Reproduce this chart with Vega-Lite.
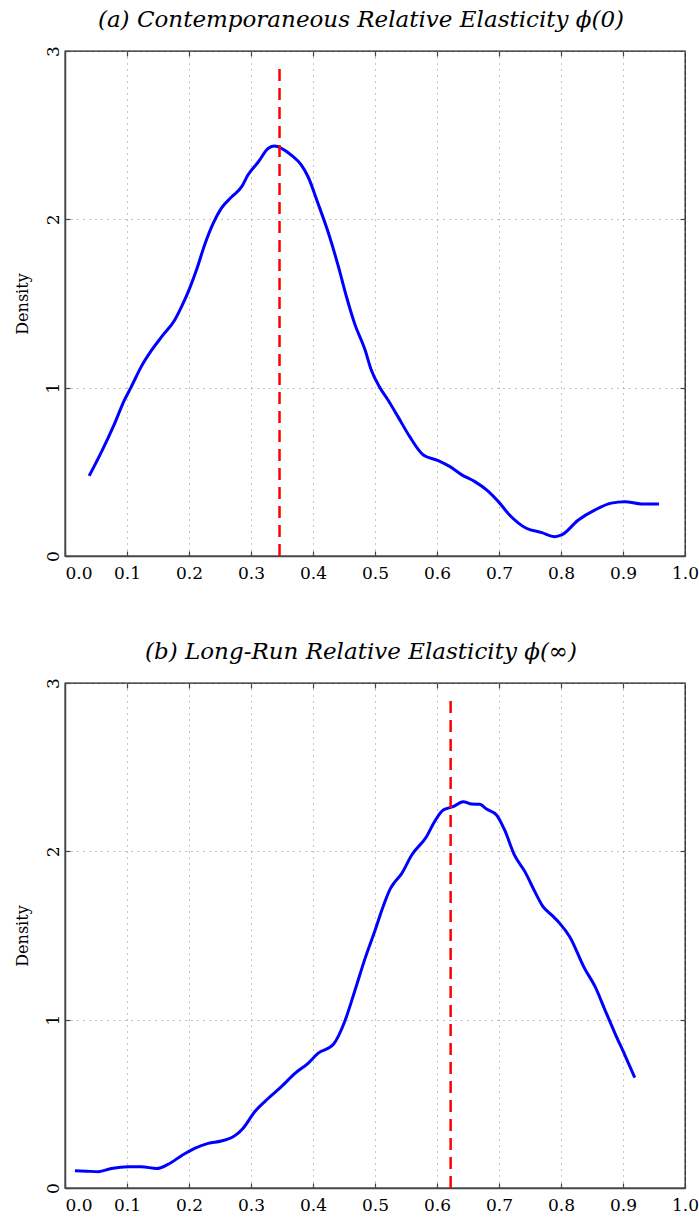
{
  "$schema": "https://vega.github.io/schema/vega-lite/v6.json",
  "background": "white",
  "padding": {"left": 13, "top": 7, "right": 4, "bottom": 4},
  "spacing": 57,
  "datasets": {
    "curveA": [
      {"x":0.039,"y":0.476},{"x":0.059,"y":0.62},{"x":0.078,"y":0.77},{"x":0.096,"y":0.927},{"x":0.107,"y":1.006},{"x":0.123,"y":1.125},{"x":0.14,"y":1.224},{"x":0.156,"y":1.303},{"x":0.177,"y":1.402},{"x":0.188,"y":1.481},{"x":0.201,"y":1.59},{"x":0.212,"y":1.699},{"x":0.226,"y":1.857},{"x":0.239,"y":1.976},{"x":0.252,"y":2.065},{"x":0.269,"y":2.134},{"x":0.285,"y":2.194},{"x":0.295,"y":2.263},{"x":0.312,"y":2.342},{"x":0.328,"y":2.422},{"x":0.338,"y":2.435},{"x":0.349,"y":2.422},{"x":0.365,"y":2.382},{"x":0.381,"y":2.323},{"x":0.392,"y":2.253},{"x":0.408,"y":2.095},{"x":0.425,"y":1.917},{"x":0.441,"y":1.719},{"x":0.454,"y":1.54},{"x":0.467,"y":1.382},{"x":0.484,"y":1.224},{"x":0.494,"y":1.105},{"x":0.508,"y":1.0},{"x":0.521,"y":0.927},{"x":0.537,"y":0.828},{"x":0.556,"y":0.709},{"x":0.578,"y":0.6},{"x":0.602,"y":0.567},{"x":0.621,"y":0.531},{"x":0.64,"y":0.482},{"x":0.661,"y":0.442},{"x":0.68,"y":0.393},{"x":0.699,"y":0.323},{"x":0.717,"y":0.244},{"x":0.744,"y":0.165},{"x":0.769,"y":0.139},{"x":0.79,"y":0.115},{"x":0.801,"y":0.125},{"x":0.828,"y":0.214},{"x":0.855,"y":0.274},{"x":0.881,"y":0.314},{"x":0.903,"y":0.323},{"x":0.93,"y":0.309},{"x":0.958,"y":0.309}
    ],
    "curveB": [
      {"x":0.016,"y":0.103},{"x":0.035,"y":0.1},{"x":0.054,"y":0.097},{"x":0.075,"y":0.116},{"x":0.102,"y":0.126},{"x":0.123,"y":0.126},{"x":0.148,"y":0.116},{"x":0.166,"y":0.14},{"x":0.188,"y":0.192},{"x":0.209,"y":0.235},{"x":0.231,"y":0.265},{"x":0.252,"y":0.279},{"x":0.274,"y":0.311},{"x":0.287,"y":0.354},{"x":0.306,"y":0.453},{"x":0.328,"y":0.533},{"x":0.349,"y":0.602},{"x":0.371,"y":0.681},{"x":0.392,"y":0.741},{"x":0.408,"y":0.8},{"x":0.433,"y":0.854},{"x":0.451,"y":0.988},{"x":0.467,"y":1.166},{"x":0.484,"y":1.364},{"x":0.5,"y":1.53},{"x":0.513,"y":1.671},{"x":0.525,"y":1.78},{"x":0.532,"y":1.818},{"x":0.543,"y":1.868},{"x":0.559,"y":1.977},{"x":0.583,"y":2.087},{"x":0.596,"y":2.176},{"x":0.61,"y":2.245},{"x":0.626,"y":2.265},{"x":0.642,"y":2.295},{"x":0.656,"y":2.281},{"x":0.669,"y":2.279},{"x":0.68,"y":2.251},{"x":0.696,"y":2.216},{"x":0.709,"y":2.127},{"x":0.725,"y":1.977},{"x":0.742,"y":1.878},{"x":0.758,"y":1.759},{"x":0.771,"y":1.671},{"x":0.785,"y":1.621},{"x":0.798,"y":1.572},{"x":0.814,"y":1.493},{"x":0.838,"y":1.305},{"x":0.855,"y":1.196},{"x":0.871,"y":1.057},{"x":0.887,"y":0.919},{"x":0.903,"y":0.79},{"x":0.919,"y":0.656}
    ],
    "markA": [{"x":0.346,"y0":0,"y1":2.92}],
    "markB": [{"x":0.622,"y0":0,"y1":2.92}]
  },
  "config": {
    "view": {"stroke": "#111", "strokeWidth": 1.3},
    "axis": {
      "labelFont": "DejaVu Serif",
      "labelFontSize": 17,
      "labelColor": "#000",
      "titleFont": "DejaVu Serif",
      "titleFontSize": 16,
      "titleFontWeight": "normal",
      "titleColor": "#000",
      "tickColor": "#444",
      "tickWidth": 1.2,
      "domainColor": "#444",
      "domainWidth": 1.5,
      "gridColor": "#888",
      "gridDash": [1, 5],
      "gridWidth": 1
    },
    "title": {
      "font": "DejaVu Serif",
      "fontStyle": "italic",
      "fontSize": 23,
      "fontWeight": "normal",
      "color": "#000",
      "offset": 14,
      "dx": -14
    }
  },
  "vconcat": [
    {
      "title": {"text": "(a) Contemporaneous Relative Elasticity ϕ(0)"},
      "width": 620,
      "height": 505,
      "layer": [
        {
          "data": {"name": "curveA"},
          "mark": {"type": "line", "color": "#0000ff", "strokeWidth": 3, "interpolate": "monotone"},
          "encoding": {
            "x": {"field": "x", "type": "quantitative", "scale": {"domain": [0, 1], "nice": false},
              "axis": {"orient": "bottom", "title": null, "values": [0,0.1,0.2,0.3,0.4,0.5,0.6,0.7,0.8,0.9,1.0], "format": ".1f", "tickSize": -5, "labelPadding": 14, "grid": true, "labelFlush": false,
                "labelAlign": {"condition": {"test": "datum.value <= 0", "value": "left"}, "value": "center"}}},
            "y": {"field": "y", "type": "quantitative", "scale": {"domain": [0, 3], "nice": false},
              "axis": {"orient": "left", "title": "Density", "values": [0,1,2,3], "tickSize": -5, "labelAngle": 270, "labelAlign": "center", "labelBaseline": "alphabetic", "labelPadding": 12, "titlePadding": 14, "grid": true, "labelFlush": false}}
          }
        },
        {
          "data": {"name": "markA"},
          "mark": {"type": "rule", "color": "#ff0000", "strokeWidth": 2.5, "strokeDash": [12, 7]},
          "encoding": {
            "x": {"field": "x", "type": "quantitative", "axis": {"orient": "top", "title": null, "labels": false, "domain": false, "grid": false, "tickSize": -5, "values": [0.1,0.2,0.3,0.4,0.5,0.6,0.7,0.8,0.9]}},
            "y": {"field": "y0", "type": "quantitative", "axis": {"orient": "right", "title": null, "labels": false, "domain": false, "grid": false, "tickSize": -5, "values": [1,2]}},
            "y2": {"field": "y1"}
          }
        }
      ],
      "resolve": {"axis": {"x": "independent", "y": "independent"}}
    },
    {
      "title": {"text": "(b) Long-Run Relative Elasticity ϕ(∞)"},
      "width": 620,
      "height": 505,
      "layer": [
        {
          "data": {"name": "curveB"},
          "mark": {"type": "line", "color": "#0000ff", "strokeWidth": 3, "interpolate": "monotone"},
          "encoding": {
            "x": {"field": "x", "type": "quantitative", "scale": {"domain": [0, 1], "nice": false},
              "axis": {"orient": "bottom", "title": null, "values": [0,0.1,0.2,0.3,0.4,0.5,0.6,0.7,0.8,0.9,1.0], "format": ".1f", "tickSize": -5, "labelPadding": 14, "grid": true, "labelFlush": false,
                "labelAlign": {"condition": {"test": "datum.value <= 0", "value": "left"}, "value": "center"}}},
            "y": {"field": "y", "type": "quantitative", "scale": {"domain": [0, 3], "nice": false},
              "axis": {"orient": "left", "title": "Density", "values": [0,1,2,3], "tickSize": -5, "labelAngle": 270, "labelAlign": "center", "labelBaseline": "alphabetic", "labelPadding": 12, "titlePadding": 14, "grid": true, "labelFlush": false}}
          }
        },
        {
          "data": {"name": "markB"},
          "mark": {"type": "rule", "color": "#ff0000", "strokeWidth": 2.5, "strokeDash": [12, 7]},
          "encoding": {
            "x": {"field": "x", "type": "quantitative", "axis": {"orient": "top", "title": null, "labels": false, "domain": false, "grid": false, "tickSize": -5, "values": [0.1,0.2,0.3,0.4,0.5,0.6,0.7,0.8,0.9]}},
            "y": {"field": "y0", "type": "quantitative", "axis": {"orient": "right", "title": null, "labels": false, "domain": false, "grid": false, "tickSize": -5, "values": [1,2]}},
            "y2": {"field": "y1"}
          }
        }
      ],
      "resolve": {"axis": {"x": "independent", "y": "independent"}}
    }
  ]
}
